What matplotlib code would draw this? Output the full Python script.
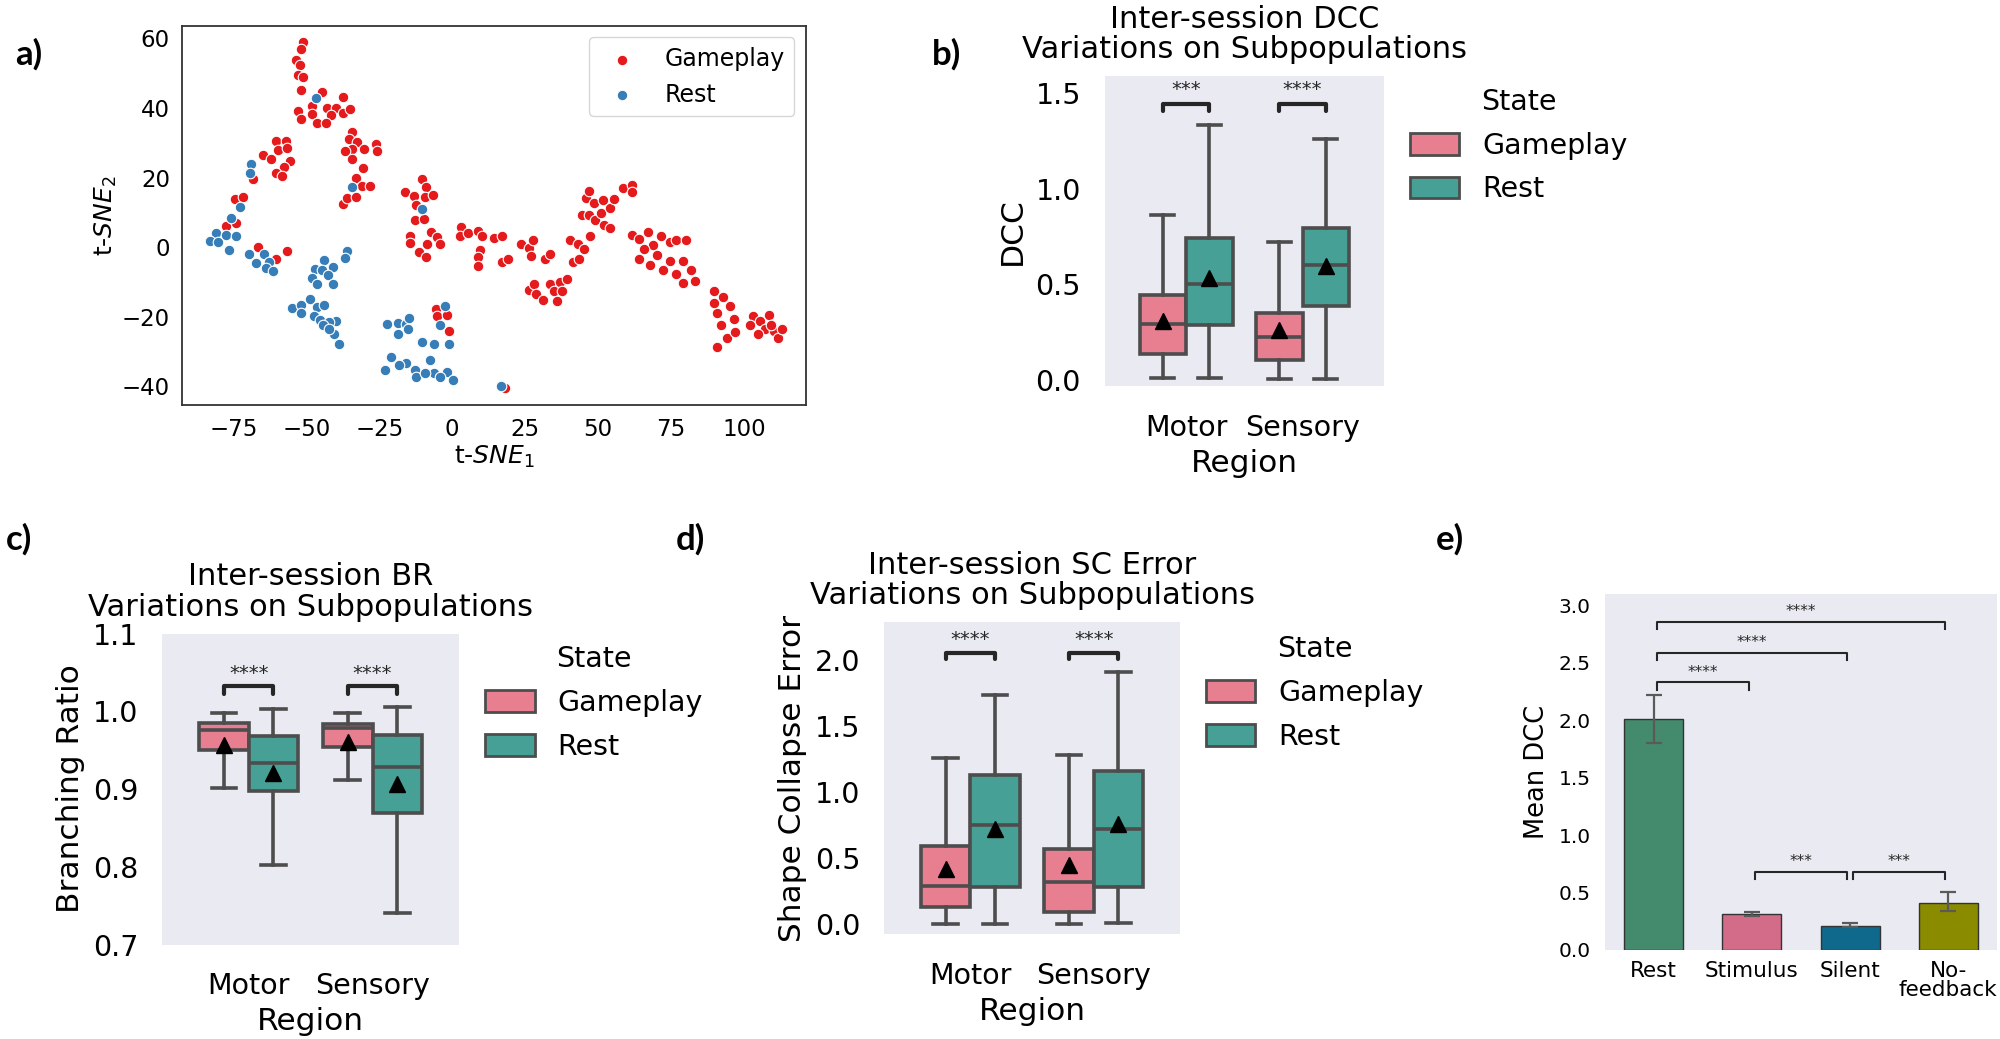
import numpy as np
import matplotlib
matplotlib.use('Agg')
import matplotlib.pyplot as plt
from matplotlib.patches import Patch

# ---------------- data ----------------
# panel a: t-SNE embedding
game_xy = np.array([
    (-51.0, 59.0), (-51.9, 57.1), (-53.7, 53.7), (-52.1, 52.4), (-52.8, 49.5), (-51.1, 48.9), (-51.9, 45.2),
    (-44.6, 44.6), (-37.6, 43.3), (-47.9, 40.7), (-43.0, 39.9), (-39.9, 39.9), (-52.8, 39.2), (-41.5, 37.9),
    (-48.0, 38.3), (-37.3, 38.7), (-34.9, 39.6), (-51.9, 36.8), (-46.3, 35.6), (-43.4, 35.6),
    (-34.2, 33.2), (-35.3, 31.0), (-32.5, 30.1), (-26.1, 29.7), (-34.2, 28.1), (-36.9, 27.5), (-30.1, 28.1),
    (-25.8, 27.7), (-34.3, 25.3), (-30.5, 22.7), (-33.0, 20.0), (-31.0, 17.5), (-28.3, 17.5), (-37.5, 12.5),
    (-36.0, 14.0), (-32.9, 14.3),
    (-60.5, 30.4), (-57.0, 30.4), (-59.7, 27.8), (-56.6, 28.4), (-64.7, 26.5), (-62.2, 25.3), (-55.5, 24.8),
    (-57.6, 23.0), (-60.5, 21.2), (-58.2, 20.5), (-68.2, 19.6),
    (-74.4, 13.8), (-71.8, 14.3), (-77.7, 6.2), (-74.2, 6.9), (-66.6, 0.0), (-60.3, -3.3), (-56.7, -1.1),
    (-16.3, 15.8), (-13.0, 14.7), (-10.4, 19.5), (-9.0, 17.3), (-9.3, 14.4), (-6.6, 15.1), (-12.3, 12.2),
    (-12.9, 7.7), (-9.6, 8.1), (-14.6, 3.3), (-14.3, 1.3), (-7.3, 4.3), (-5.3, 2.9), (-4.3, 0.9), (-8.5, 1.0),
    (-11.3, -1.3), (-8.9, -2.7),
    (3.1, 5.9), (2.7, 3.3), (5.3, 4.1), (8.8, 4.7), (10.4, 3.2), (14.4, 2.7), (17.1, 3.3), (9.6, -0.7),
    (8.7, -2.7), (8.8, -5.4), (17.1, -4.3), (19.3, -3.4), (23.5, 1.0), (26.5, -0.3), (27.8, 2.1), (27.2, -2.5),
    (31.8, -3.4), (33.7, -2.0),
    (26.2, -12.2), (27.9, -10.7), (28.6, -13.4), (31.3, -15.1), (33.6, -10.5), (35.0, -12.6), (36.9, -10.1),
    (37.8, -12.5), (35.8, -15.4), (39.4, -9.3),
    (40.5, 2.1), (43.2, 0.9), (45.1, -0.5), (41.6, -4.4), (43.6, -3.3), (47.3, 3.3), (44.4, 9.1), (46.8, 9.3),
    (48.9, 7.9), (50.9, 9.7), (51.9, 6.3), (54.2, 5.5), (54.2, 11.3), (46.0, 14.1), (47.0, 16.1), (48.5, 12.6),
    (51.7, 13.5), (55.5, 13.8), (58.5, 16.9), (61.5, 17.8), (61.7, 15.9),
    (61.8, 3.6), (63.9, 2.4), (63.9, -3.4),
    (-5.5, -17.7), (-5.3, -19.9), (-1.6, -19.4), (-1.0, -24.0), (18.0, -40.5),
    (67.2, 4.3), (71.5, 3.2), (74.6, 1.4), (68.9, 0.7), (76.8, 2.1), (80.3, 2.1), (65.9, -0.4), (70.2, -2.3),
    (74.6, -4.1), (79.0, -4.1), (82.0, -6.7), (72.4, -6.7), (76.8, -7.8), (83.4, -9.6), (68.0, -5.2), (79.0, -10.4),
    (89.9, -12.5), (93.0, -14.4), (95.2, -16.9), (90.8, -18.8), (96.5, -20.6), (92.1, -22.4), (94.3, -26.1),
    (90.8, -28.6), (96.9, -24.3), (89.9, -16.2),
    (103.0, -19.9), (105.7, -21.3), (108.7, -19.5), (107.4, -23.5), (110.5, -24.2), (104.8, -25.0),
    (111.8, -26.1), (109.2, -22.4), (102.2, -22.4), (113.1, -23.5),
])
rest_xy = np.array([
    (-46.7, 42.9), (-34.2, 17.3), (-68.9, 23.9), (-69.3, 21.4),
    (-72.6, 11.6), (-75.7, 8.5), (-80.9, 4.0), (-83.0, 1.8), (-80.2, 1.5), (-77.5, 3.4), (-74.2, 3.2), (-76.6, -0.9),
    (-69.7, -2.1), (-67.1, -4.6), (-64.6, -1.9), (-62.9, -4.4), (-64.0, -5.9), (-61.6, -6.8),
    (-43.8, -3.7), (-47.0, -6.4), (-44.5, -6.7), (-40.9, -5.7), (-42.5, -7.9), (-48.1, -8.9), (-46.4, -10.7),
    (-40.8, -10.7), (-36.0, -1.2), (-36.6, -3.1),
    (-55.0, -17.4), (-51.9, -16.5), (-51.7, -18.8), (-48.7, -15.0), (-46.4, -17.2), (-43.9, -16.7), (-47.4, -19.9),
    (-45.3, -21.0), (-39.9, -21.3), (-42.1, -21.5), (-44.4, -22.4), (-40.4, -25.0), (-38.7, -27.9), (-42.2, -23.5),
    (-10.4, 11.0), (-2.6, -16.9),
    (-18.6, -21.9), (-15.9, -22.2), (-14.9, -20.4),
    (-22.5, -22.1), (-18.6, -25.0), (-15.1, -23.5), (-10.3, -27.2), (-4.1, -22.4), (-6.3, -27.9), (-1.1, -27.9),
    (-20.8, -31.6), (-15.9, -33.4), (-22.9, -35.2), (-12.9, -35.2), (-7.6, -32.3), (-1.9, -36.0), (-12.4, -37.4),
    (0.2, -38.2), (-6.3, -36.3), (-18.1, -33.8), (-9.4, -36.3), (-4.1, -37.4),
    (16.8, -40.0),
])

regions = ['Motor', 'Sensory']
states = ['Gameplay', 'Rest']
# order of boxes: Motor-Gameplay, Motor-Rest, Sensory-Gameplay, Sensory-Rest
dcc_low = [0.01, 0.012, 0.005, 0.005]
dcc_q1 = [0.135, 0.285, 0.105, 0.385]
dcc_med = [0.295, 0.50, 0.223, 0.60]
dcc_q3 = [0.442, 0.74, 0.35, 0.793]
dcc_high = [0.865, 1.335, 0.72, 1.258]
dcc_mean = [0.31, 0.535, 0.263, 0.596]
dcc_sig = ['***', '****']

br_low = [0.902, 0.803, 0.912, 0.741]
br_q1 = [0.950, 0.898, 0.954, 0.869]
br_med = [0.976, 0.933, 0.979, 0.929]
br_q3 = [0.985, 0.968, 0.984, 0.970]
br_high = [0.998, 1.003, 0.998, 1.006]
br_mean = [0.957, 0.921, 0.961, 0.907]
br_sig = ['****', '****']

sc_low = [0.005, 0.005, 0.005, 0.01]
sc_q1 = [0.13, 0.28, 0.09, 0.28]
sc_med = [0.29, 0.75, 0.32, 0.72]
sc_q3 = [0.59, 1.13, 0.57, 1.16]
sc_high = [1.26, 1.74, 1.28, 1.91]
sc_mean = [0.42, 0.72, 0.45, 0.76]
sc_sig = ['****', '****']

# panel e
conditions = ['Rest', 'Stimulus', 'Silent', 'No-\nfeedback']
mean_dcc = [2.01, 0.31, 0.21, 0.41]
ci_low = [1.80, 0.29, 0.20, 0.34]
ci_high = [2.22, 0.33, 0.23, 0.50]
e_pairs = [(0, 1), (0, 2), (0, 3), (1, 2), (2, 3)]
e_sig = ['****', '****', '****', '***', '***']
e_sig_y = [2.33, 2.59, 2.86, 0.68, 0.68]

# ---------------- style ----------------
state_colors = ['#e77f91', '#46a096']
cond_colors = ['#448b6e', '#d36c89', '#0f698c', '#8b8b00']
bg = '#eaeaf2'
line_c = '#4d4d4d'

fig = plt.figure(figsize=(20, 10.39), dpi=100)

# ---------------- panel a ----------------
axa = fig.add_axes([0.0912, 0.6098, 0.3119, 0.3656])
axa.scatter(game_xy[:, 0], game_xy[:, 1], s=58, c='#e41a1c', edgecolors='white', linewidths=0.8,
            label='Gameplay', zorder=3)
axa.scatter(rest_xy[:, 0], rest_xy[:, 1], s=58, c='#377eb8', edgecolors='white', linewidths=0.8,
            label='Rest', zorder=3)
axa.set_xlim(-92.5, 121.4)
axa.set_ylim(-45.5, 63.7)
axa.set_xticks([-75, -50, -25, 0, 25, 50, 75, 100])
axa.set_yticks([-40, -20, 0, 20, 40, 60])
axa.tick_params(length=0, labelsize=16.5, pad=9)
axa.set_xlabel(r't-$SNE_1$', fontsize=18, labelpad=2)
axa.set_ylabel(r't-$SNE_2$', fontsize=18, labelpad=2)
for sp in axa.spines.values():
    sp.set_color('#333333')
    sp.set_linewidth(1.3)
axa.legend(loc='upper right', fontsize=17, frameon=True, handletextpad=0.8,
           borderpad=0.4, edgecolor='#cccccc')


# ---------------- box panels ----------------
def box_panel(ax, low, q1, med, q3, high, mean, sig, ylim, yticks, title, ylabel, bar_y, leg_y, txt_y, leg_anchor):
    stats = []
    for i in range(4):
        stats.append(dict(whislo=low[i], q1=q1[i], med=med[i], q3=q3[i], whishi=high[i],
                          mean=mean[i], fliers=[]))
    pos = [-0.2, 0.2, 0.8, 1.2]
    bp = ax.bxp(stats, positions=pos, widths=0.4, showmeans=True, patch_artist=True, capwidths=0.2,
                boxprops=dict(edgecolor=line_c, linewidth=2.6),
                medianprops=dict(color=line_c, linewidth=2.6),
                whiskerprops=dict(color=line_c, linewidth=2.6),
                capprops=dict(color=line_c, linewidth=2.6),
                meanprops=dict(marker='^', markerfacecolor='black', markeredgecolor='black', markersize=12))
    for i, b in enumerate(bp['boxes']):
        b.set_facecolor(state_colors[i % 2])
    for r in range(2):
        x0, x1 = r - 0.2, r + 0.2
        ax.plot([x0, x0, x1, x1], [leg_y, bar_y, bar_y, leg_y], color='#262626', lw=3, solid_capstyle='round')
        ax.text(r, txt_y, sig[r], ha='center', va='bottom', fontsize=14, color='#262626')
    ax.set_facecolor(bg)
    for sp in ax.spines.values():
        sp.set_visible(False)
    ax.set_xlim(-0.7, 1.7)
    ax.set_ylim(*ylim)
    ax.set_yticks(yticks)
    ax.set_yticklabels(['%.1f' % t for t in yticks])
    ax.set_xticks([0, 1])
    ax.set_xticklabels(regions)
    ax.tick_params(axis='y', length=0, labelsize=20.5, pad=17)
    ax.tick_params(axis='x', length=0, labelsize=20.5, pad=20)
    ax.set_xlabel('Region', fontsize=22.5, labelpad=5)
    ax.set_ylabel(ylabel, fontsize=22.5, labelpad=6)
    ax.set_title(title, fontsize=22, pad=13, linespacing=1.05)
    handles = [Patch(facecolor=state_colors[k], edgecolor=line_c, linewidth=2) for k in range(2)]
    ax.legend(handles, states, title='State', loc='upper left', bbox_to_anchor=leg_anchor,
              frameon=False, fontsize=20.5, title_fontsize=20.5, handlelength=1.75, handleheight=0.8,
              labelspacing=0.55)


axb = fig.add_axes([0.5523, 0.6282, 0.1397, 0.2982])
box_panel(axb, dcc_low, dcc_q1, dcc_med, dcc_q3, dcc_high, dcc_mean, dcc_sig, (-0.033, 1.587),
          [0.0, 0.5, 1.0, 1.5], 'Inter-session DCC\nVariations on Subpopulations', 'DCC', 1.442, 1.405, 1.47,
          (1.0, 1.045))

axc = fig.add_axes([0.0810, 0.0908, 0.1486, 0.2994])
box_panel(axc, br_low, br_q1, br_med, br_q3, br_high, br_mean, br_sig, (0.7, 1.1),
          [0.7, 0.8, 0.9, 1.0, 1.1], 'Inter-session BR\nVariations on Subpopulations', 'Branching Ratio',
          1.032, 1.022, 1.037, (1.0, 1.045))

axd = fig.add_axes([0.4420, 0.1006, 0.1480, 0.3006])
box_panel(axd, sc_low, sc_q1, sc_med, sc_q3, sc_high, sc_mean, sc_sig, (-0.077, 2.29),
          [0.0, 0.5, 1.0, 1.5, 2.0], 'Inter-session SC Error\nVariations on Subpopulations',
          'Shape Collapse Error', 2.058, 2.008, 2.09, (1.0, 1.04))

# ---------------- panel e ----------------
axe = fig.add_axes([0.8023, 0.0859, 0.1964, 0.3423])
xe = np.arange(len(conditions))
axe.bar(xe, mean_dcc, width=0.6, color=cond_colors, edgecolor='#333333', linewidth=1.0)
yerr = [np.array(mean_dcc) - np.array(ci_low), np.array(ci_high) - np.array(mean_dcc)]
axe.errorbar(xe, mean_dcc, yerr=yerr, fmt='none', ecolor='#5a5a5a', elinewidth=1.6, capsize=6, capthick=1.6)
for (i, j), s, yb in zip(e_pairs, e_sig, e_sig_y):
    x0, x1 = i + 0.03, j - 0.03
    axe.plot([x0, x0, x1, x1], [yb - 0.065, yb, yb, yb - 0.065], color='#262626', lw=1.5)
    axe.text((i + j) / 2, yb + 0.02, s, ha='center', va='bottom', fontsize=11, color='#262626')
axe.set_facecolor(bg)
for sp in axe.spines.values():
    sp.set_visible(False)
axe.set_xlim(-0.5, 3.5)
axe.set_ylim(0, 3.1)
axe.set_yticks([0.0, 0.5, 1.0, 1.5, 2.0, 2.5, 3.0])
axe.set_yticklabels(['%.1f' % t for t in [0.0, 0.5, 1.0, 1.5, 2.0, 2.5, 3.0]])
axe.set_xticks(xe)
axe.set_xticklabels(conditions, linespacing=0.95)
axe.tick_params(axis='y', length=0, labelsize=14.5, pad=10)
axe.tick_params(axis='x', length=0, labelsize=15.5, pad=8)
axe.set_ylabel('Mean DCC', fontsize=18.5, labelpad=6)

# ---------------- panel letters ----------------
for lab, x, y in [('a)', 0.0077, 0.948), ('b)', 0.466, 0.948), ('c)', 0.003, 0.481),
                  ('d)', 0.338, 0.481), ('e)', 0.718, 0.481)]:
    fig.text(x, y, lab, fontsize=25, fontweight='bold', family='Lato', va='center')

plt.savefig('out.png', dpi=100)
